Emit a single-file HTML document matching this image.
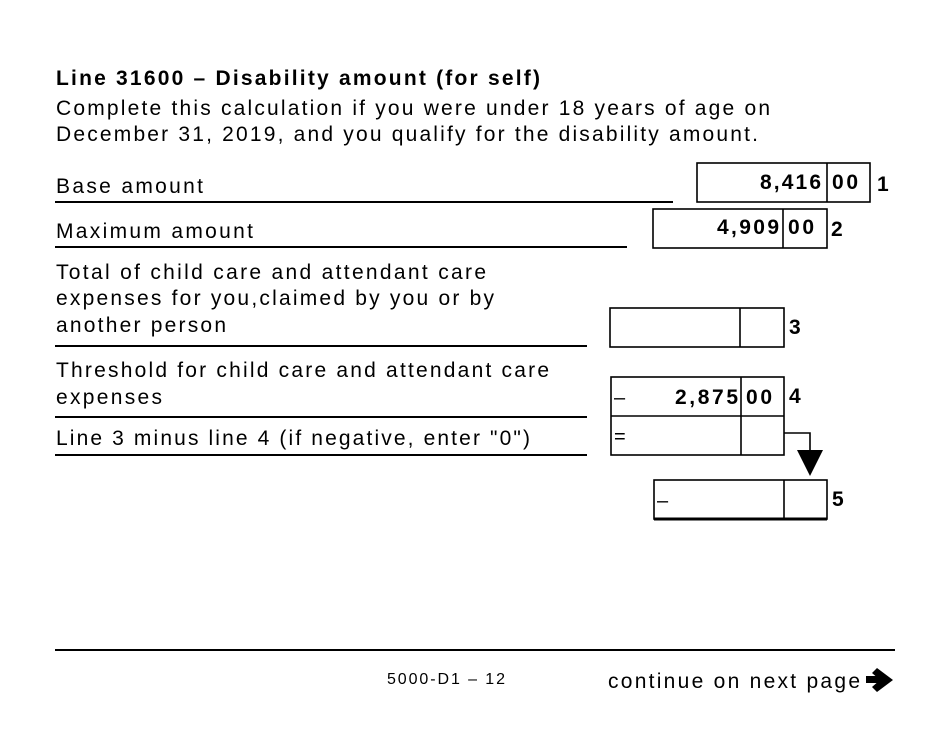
<!DOCTYPE html>
<html><head><style>
body{margin:0;background:#fff;}
svg text{font-family:"Liberation Sans",Arial,sans-serif;fill:#000;}
</style></head><body>
<svg width="950" height="733" xmlns="http://www.w3.org/2000/svg">
<rect width="950" height="733" fill="#fff"/>
<g font-size="21" lengthAdjust="spacing">
<text x="56" y="85" font-weight="bold" textLength="484">Line 31600 – Disability amount (for self)</text>
<text x="56" y="115" textLength="714">Complete this calculation if you were under 18 years of age on</text>
<text x="56" y="141" textLength="702">December 31, 2019, and you qualify for the disability amount.</text>
<text x="56" y="193" textLength="147">Base amount</text>
<text x="56" y="238" textLength="197">Maximum amount</text>
<text x="56" y="279" textLength="430">Total of child care and attendant care</text>
<text x="56" y="305" textLength="438">expenses for you,claimed by you or by</text>
<text x="56" y="332" textLength="170">another person</text>
<text x="56" y="377" textLength="493">Threshold for child care and attendant care</text>
<text x="56" y="404" textLength="106">expenses</text>
<text x="56" y="445" textLength="474">Line 3 minus line 4 (if negative, enter "0")</text>
<text x="608" y="688" textLength="252">continue on next page</text>
</g>
<line x1="55" y1="202" x2="673" y2="202" stroke="#000" stroke-width="2"/>
<line x1="55" y1="247" x2="627" y2="247" stroke="#000" stroke-width="2"/>
<line x1="55" y1="346" x2="587" y2="346" stroke="#000" stroke-width="2"/>
<line x1="55" y1="417" x2="587" y2="417" stroke="#000" stroke-width="2"/>
<line x1="55" y1="455" x2="587" y2="455" stroke="#000" stroke-width="2"/>

<g fill="none" stroke="#000" stroke-width="1.6">
<rect x="697" y="163" width="173" height="39"/><line x1="827" y1="163" x2="827" y2="202"/>
<rect x="653" y="209" width="174" height="39"/><line x1="783" y1="209" x2="783" y2="248"/>
<rect x="610" y="308" width="174" height="39"/><line x1="740" y1="308" x2="740" y2="347"/>
<rect x="611" y="377" width="173" height="78"/><line x1="611" y1="416" x2="784" y2="416"/><line x1="741" y1="377" x2="741" y2="455"/>
<polyline points="784,433 810,433 810,452"/>
<rect x="654" y="480" width="173" height="39"/><line x1="784" y1="480" x2="784" y2="519"/>
</g>
<line x1="654" y1="519" x2="827" y2="519" stroke="#000" stroke-width="3"/>
<polygon points="797,450 823,450 810,476" fill="#000"/>

<g font-size="21" font-weight="bold" lengthAdjust="spacing">
<text x="760" y="189" textLength="61">8,416</text><text x="832" y="189" textLength="26">00</text><text x="877" y="191">1</text>
<text x="717" y="234" textLength="62">4,909</text><text x="788" y="234" textLength="26">00</text><text x="831" y="236">2</text>
<text x="789" y="334">3</text>
<text x="675" y="404" textLength="63">2,875</text><text x="746" y="404" textLength="26">00</text><text x="789" y="403">4</text>
<text x="832" y="506">5</text>
</g>
<g font-size="20"><text x="614" y="404">–</text><text x="614" y="443">=</text><text x="657" y="507">–</text></g>

<line x1="55" y1="650" x2="895" y2="650" stroke="#000" stroke-width="2"/>
<text x="387" y="684" font-size="16" textLength="118" lengthAdjust="spacing">5000-D1 – 12</text>
<g fill="#000"><rect x="866" y="676" width="14" height="7"/><polygon points="877,668 893,680 877,692 872,687 880,680 872,673"/></g>
</svg>
</body></html>
